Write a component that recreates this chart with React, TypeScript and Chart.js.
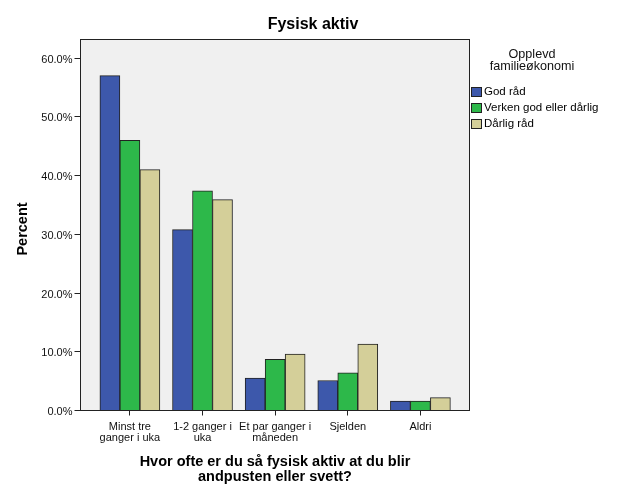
import React, { useEffect, useRef } from "react";
import { Chart, registerables } from "chart.js";

Chart.register(...registerables);

const chartTitle = "Fysisk aktiv";
const categories: string[][] = [
  ["Minst tre", "ganger i uka"],
  ["1-2 ganger i", "uka"],
  ["Et par ganger i", "måneden"],
  ["Sjelden"],
  ["Aldri"],
];
const seriesNames = ["God råd", "Verken god eller dårlig", "Dårlig råd"];
const seriesColors = ["#3D58AB", "#2DB84A", "#D4CF99"];
const godRaad = [57.0, 30.8, 5.5, 5.1, 1.6];
const verken = [46.0, 37.4, 8.7, 6.4, 1.6];
const daarligRaad = [41.0, 35.9, 9.6, 11.3, 2.2];
const yTicks = [0, 10, 20, 30, 40, 50, 60];
const yTitle = "Percent";
const xTitle = ["Hvor ofte er du så fysisk aktiv at du blir", "andpusten eller svett?"];
const legendTitle = ["Opplevd", "familieøkonomi"];

const FONT = "'Liberation Sans', Arial, sans-serif";

export default function App() {
  const ref = useRef<HTMLCanvasElement | null>(null);

  useEffect(() => {
    document.body.style.margin = "0";
    const canvas = ref.current!;
    const seriesValues = [godRaad, verken, daarligRaad];

    const decorPlugin = {
      id: "decor",
      beforeDraw(chart: any) {
        const { ctx, chartArea: a } = chart;
        ctx.save();
        ctx.fillStyle = "#ffffff";
        ctx.fillRect(0, 0, chart.width, chart.height);
        ctx.fillStyle = "#F0F0F0";
        ctx.fillRect(a.left, a.top, a.right - a.left, a.bottom - a.top);
        ctx.restore();
      },
      afterDraw(chart: any) {
        const { ctx, chartArea: a } = chart;
        ctx.save();
        ctx.strokeStyle = "#222";
        ctx.lineWidth = 1;
        ctx.strokeRect(a.left, a.top, a.right - a.left, a.bottom - a.top);

        ctx.fillStyle = "#000";
        ctx.textAlign = "center";
        ctx.textBaseline = "middle";
        ctx.font = `bold 16px ${FONT}`;
        ctx.fillText(chartTitle, 313, 25);

        ctx.font = `bold 14.5px ${FONT}`;
        const cx = (a.left + a.right) / 2;
        ctx.fillText(xTitle[0], cx, 462);
        ctx.fillText(xTitle[1], cx, 477);

        ctx.save();
        ctx.translate(23, 229);
        ctx.rotate(-Math.PI / 2);
        ctx.fillText(yTitle, 0, 0);
        ctx.restore();

        ctx.font = `12.6px ${FONT}`;
        ctx.fillStyle = "#111";
        ctx.fillText(legendTitle[0], 532, 55);
        ctx.fillText(legendTitle[1], 532, 67);

        ctx.font = `11.5px ${FONT}`;
        ctx.textAlign = "left";
        const rows = [91.7, 108, 123.7];
        seriesNames.forEach((n, i) => {
          const y = rows[i];
          ctx.fillStyle = seriesColors[i];
          ctx.fillRect(471, Math.round(y - 5), 11, 10);
          ctx.strokeStyle = "#222";
          ctx.strokeRect(471.5, Math.round(y - 5) + 0.5, 10, 9);
          ctx.fillStyle = "#000";
          ctx.fillText(n, 484, y);
        });
        ctx.restore();
      },
    };

    const chart = new Chart(canvas, {
      type: "bar",
      data: {
        datasets: seriesNames.map((name, i) => ({
          label: name,
          data: seriesValues[i].map((v, j) => ({ x: j, y: v })),
          backgroundColor: seriesColors[i],
          borderColor: "#222",
          borderWidth: 1,
          barThickness: 20,
        })),
      },
      options: {
        responsive: false,
        animation: false,
        layout: { padding: { top: 39.5, right: 156.5, bottom: 0, left: 0 } },
        plugins: {
          legend: { display: false },
          title: { display: false },
          tooltip: { enabled: false },
        },
        scales: {
          x: {
            type: "linear",
            offset: false,
            min: -0.68,
            max: 4.676,
            afterBuildTicks: (s: any) => {
              s.ticks = categories.map((_, i) => ({ value: i }));
            },
            afterFit: (s: any) => {
              s.height = 90.5;
            },
            grid: { offset: false, drawOnChartArea: false, drawTicks: true, tickLength: 5, color: "#222" },
            border: { display: false },
            ticks: {
              autoSkip: false,
              maxRotation: 0,
              padding: 6,
              color: "#111",
              font: { family: FONT, size: 11, lineHeight: 0.97 },
              callback: (v: any) => categories[Math.round(Number(v))] ?? "",
            },
          },
          y: {
            min: 0,
            max: 63.15,
            afterBuildTicks: (s: any) => {
              s.ticks = yTicks.map((v) => ({ value: v }));
            },
            afterFit: (s: any) => {
              s.width = 80.5;
            },
            grid: { drawOnChartArea: false, drawTicks: true, tickLength: 6, color: "#222" },
            border: { display: false },
            ticks: {
              padding: 2,
              labelOffset: 1.5,
              color: "#111",
              font: { family: FONT, size: 11 },
              callback: (v: any) => Number(v).toFixed(1) + "%",
            },
          },
        },
      },
      plugins: [decorPlugin],
    } as any);

    return () => chart.destroy();
  }, []);

  return (
    <canvas
      ref={ref}
      width={626}
      height={501}
      style={{ display: "block", width: 626, height: 501 }}
    />
  );
}
